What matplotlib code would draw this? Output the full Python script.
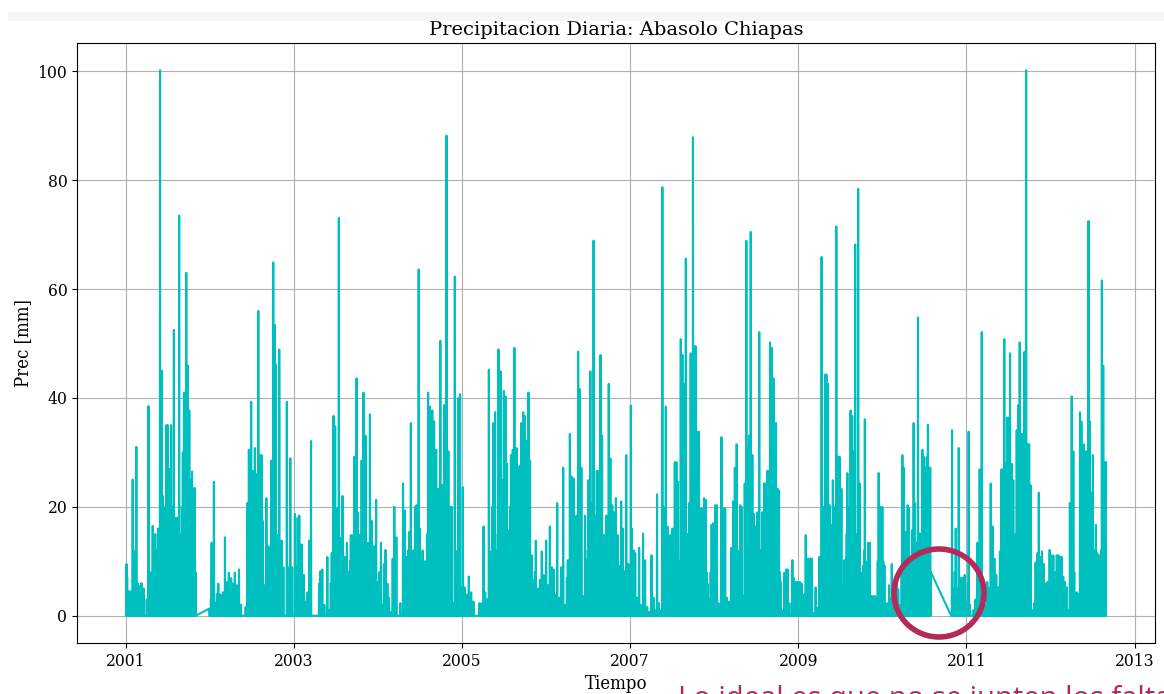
import numpy as np
import pandas as pd
import matplotlib
matplotlib.use("Agg")
import matplotlib.pyplot as plt
import matplotlib.dates as mdates
from matplotlib.patches import Ellipse, Rectangle

# precipitacion diaria: (dia del anio, mm)
lluvia_2001 = [(0, 8), (2, 9.5), (5, 7), (9, 4.5), (19, 4.5), (29, 25), (33, 12), (45, 31), (50, 6), (58, 5.5),
               (67, 6), (77, 5), (90, 3), (98, 38.5), (104, 5), (109, 8), (116, 16.5), (122, 9), (127, 15), (133, 12),
               (139, 16), (143, 10), (148, 100.2), (153, 14), (156, 45), (160, 22), (164, 20), (168, 12), (172, 10),
               (176, 35), (181, 35), (186, 20), (192, 27), (196, 35), (200, 12), (204, 20), (208, 52.5), (213, 14),
               (217, 18), (221, 18), (226, 11), (231, 73.5), (235, 15), (239, 11), (243, 20), (247, 30), (252, 41),
               (256, 25), (262, 63), (265, 20), (268, 46), (272, 30), (275, 37.7), (279, 25), (283, 20), (287, 26.5),
               (291, 15), (295, 12), (298, 23.5), (302, 8), (361, 1.3)]
lluvia_2002 = [(4, 3), (7, 13.4), (12, 2), (17, 24.6), (24, 2.3), (30, 4), (36, 5.9), (45, 3.9), (56, 4.3), (65, 14.4),
               (72, 6.2), (82, 7.9), (92, 6.9), (100, 5.9), (108, 7.9), (117, 5.6), (126, 8.5), (135, 2), (155, 1.6),
               (162, 20.7), (166, 8), (169, 30.5), (174, 12), (179, 39.3), (184, 15), (187, 26.6), (191, 10), (195, 30.8),
               (199, 14), (203, 26), (207, 12), (210, 56), (214, 15), (217, 29.5), (221, 10), (224, 29.5), (230, 17.4),
               (237, 5.6), (245, 21.6), (249, 10), (253, 12.8), (260, 12.5), (267, 28.5), (271, 12), (275, 64.9),
               (278, 20), (282, 53.4), (286, 46.2), (289, 15), (294, 5.6), (301, 48.9), (305, 13.4), (311, 13.8),
               (319, 8.9), (334, 39.3), (341, 8.9), (349, 28.9), (357, 8.9)]
lluvia_2003 = [(4, 18.7), (11, 8.9), (16, 18), (23, 18.4), (33, 13.1), (43, 7.5), (51, 2.6), (59, 4.3), (67, 13.8),
               (74, 32.1), (109, 5.9), (115, 8.2), (123, 8.5), (132, 2), (145, 10.8), (154, 1), (160, 6), (164, 11.5),
               (168, 8), (172, 36.7), (176, 12), (179, 34.8), (183, 10), (188, 19.7), (192, 12), (195, 73.1),
               (199, 14.4), (203, 10), (207, 10), (211, 22), (216, 8), (220, 10.8), (225, 9), (230, 13.4), (235, 6),
               (240, 8.2), (244, 10), (247, 14.8), (251, 10), (255, 14.8), (259, 12), (263, 29.2), (267, 15),
               (272, 43.6), (276, 19), (280, 12), (284, 13.4), (288, 15), (294, 28.5), (298, 14), (302, 41), (306, 20),
               (311, 33.1), (316, 10), (322, 13.4), (326, 8), (330, 37), (334, 10), (338, 17.4), (343, 8), (349, 12.8),
               (353, 8), (357, 21.3), (362, 6.2)]
lluvia_2004 = [(2, 6.2), (6, 8), (13, 13.4), (20, 2), (26, 9.5), (33, 12.1), (41, 5.9), (48, 3.3), (56, 0.7), (64, 10.5),
               (71, 20), (80, 14.4), (97, 2.3), (109, 24.3), (114, 10), (117, 19.3), (122, 8), (126, 10.8), (131, 12),
               (136, 15.4), (143, 35.4), (148, 6.2), (153, 12), (158, 10), (161, 20), (165, 12), (168, 20.3), (172, 12),
               (177, 63.6), (181, 16), (185, 10), (190, 9.2), (194, 12), (199, 7.2), (204, 10), (208, 7.2), (213, 15),
               (218, 41), (222, 20), (226, 38.4), (230, 25), (236, 37.7), (240, 22), (244, 35.7), (248, 20),
               (253, 30.5), (257, 15), (262, 23.3), (266, 20), (271, 50.5), (275, 20), (279, 24), (283, 15),
               (288, 38.7), (292, 20), (298, 88.2), (302, 20), (306, 30.2), (310, 15), (313, 20), (316, 12), (320, 20),
               (327, 2.3), (334, 62.3), (338, 10), (342, 6.9), (346, 12), (350, 40), (354, 15), (357, 40.7), (361, 5.2)]
lluvia_2005 = [(3, 23.6), (10, 5.2), (20, 3.9), (29, 7.2), (39, 4.3), (49, 2.6), (75, 2.3), (85, 2.3), (93, 16.4),
               (100, 4.3), (108, 3), (116, 45.2), (120, 8), (126, 11.8), (130, 20), (135, 35.4), (139, 20), (143, 37.4),
               (147, 12), (152, 6.2), (155, 15), (158, 48.9), (162, 20), (167, 44.9), (171, 25), (174, 10.5), (178, 20),
               (181, 41.3), (185, 25), (188, 40.3), (192, 20), (195, 27.9), (199, 12), (204, 15.7), (208, 20),
               (212, 29.5), (216, 15), (220, 30.5), (224, 20), (227, 49.2), (231, 20), (236, 30.8), (240, 15), (242, 21),
               (246, 15), (249, 27.5), (253, 15), (256, 35.4), (260, 20), (265, 37.4), (268, 20), (272, 36.7), (276, 20),
               (279, 32.1), (283, 15), (288, 41), (292, 15), (295, 28.5), (299, 10), (302, 11.1), (307, 5), (312, 6.6),
               (316, 8), (320, 13.8), (325, 5), (329, 3.3), (333, 5), (338, 6.6), (342, 4), (346, 11.8), (350, 5),
               (354, 7.5), (358, 4)]
lluvia_2006 = [(0, 13.8), (7, 5.6), (16, 16.4), (25, 8.9), (33, 8.5), (39, 3.9), (48, 20.7), (56, 3.3), (65, 8.9),
               (74, 27.2), (82, 2), (90, 6.9), (94, 10.2), (103, 33.4), (107, 10), (110, 25.6), (114, 8), (119, 25.2),
               (125, 9.5), (132, 18.4), (136, 10), (139, 48.5), (143, 15), (146, 41.6), (150, 15), (153, 27.2),
               (161, 3.6), (169, 18.4), (174, 8), (178, 10.2), (181, 12), (184, 24.9), (188, 12), (192, 44.9), (196, 15),
               (199, 20.7), (203, 12), (206, 68.9), (210, 15), (213, 18.4), (216, 12), (220, 26.6), (224, 15),
               (227, 26.6), (231, 15), (236, 47.9), (240, 15), (243, 33.1), (247, 12), (250, 14.8), (254, 12),
               (257, 14.8), (262, 18.4), (265, 12), (268, 15), (272, 42.6), (276, 15), (279, 28.9), (283, 12),
               (287, 20.3), (290, 10), (293, 19), (298, 10), (303, 21.6), (307, 10), (311, 14.8), (315, 8), (318, 9.2),
               (322, 6), (326, 21), (330, 8), (333, 16), (337, 5), (340, 8.2), (344, 5), (348, 29.5), (352, 8),
               (357, 9.5), (361, 6)]
lluvia_2007 = [(3, 38.6), (7, 16), (11, 8), (16, 12), (22, 11.5), (31, 3.3), (39, 12.5), (45, 2), (56, 15.1), (65, 10.2),
               (74, 1.6), (83, 0.7), (93, 11.1), (102, 3.3), (110, 1), (117, 22.3), (125, 2.3), (133, 1), (140, 78.7),
               (144, 20), (149, 16.7), (155, 38.4), (159, 12), (162, 16.4), (166, 10), (169, 14.8), (173, 10),
               (177, 14.8), (181, 10), (184, 16), (189, 12), (194, 28.2), (198, 15), (201, 28.2), (205, 15), (208, 24.6),
               (212, 10), (216, 2), (220, 50.8), (223, 20), (227, 47.9), (231, 20), (235, 42.6), (238, 20), (242, 65.6),
               (246, 15), (249, 7.2), (253, 15), (256, 20.7), (260, 15), (263, 48.2), (267, 20), (269, 47.9),
               (273, 87.9), (276, 20), (279, 49.5), (282, 20), (285, 49.5), (289, 15), (292, 33.8), (296, 15),
               (299, 33.8), (303, 12), (306, 19.7), (310, 10), (314, 19.7), (318, 12), (321, 21.6), (325, 10),
               (328, 21.3), (332, 8), (336, 5.9), (342, 3), (346, 2.3), (350, 8), (354, 16.7), (358, 10), (361, 17)]
lluvia_2008 = [(4, 20.3), (8, 10), (12, 20.3), (19, 2.3), (25, 1), (32, 32.8), (36, 10), (39, 19.7), (43, 8), (48, 19.7),
               (55, 3.3), (65, 2.6), (75, 12.5), (79, 8), (83, 21), (87, 10), (90, 27.2), (94, 12), (98, 31.5), (102, 8),
               (106, 9.8), (110, 12), (113, 20.3), (116, 10), (119, 20), (126, 3.6), (133, 24.3), (137, 12), (140, 68.9),
               (143, 15), (146, 30.8), (150, 12), (153, 33.1), (156, 15), (159, 70.5), (162, 15), (166, 29.5),
               (170, 12), (173, 18.7), (177, 10), (181, 16.4), (184, 10), (188, 19), (192, 12), (196, 52.1), (200, 10),
               (203, 12.1), (206, 10), (210, 19), (213, 12), (217, 24.3), (220, 15), (224, 24.3), (228, 15),
               (231, 26.6), (235, 15), (238, 26.6), (243, 50.2), (246, 20), (250, 49.2), (253, 20), (258, 43.6),
               (261, 15), (265, 11.8), (269, 35.4), (273, 15), (276, 23.3), (279, 10), (282, 23), (286, 8), (289, 6.2),
               (295, 1), (305, 7.9), (309, 5), (313, 8.5), (317, 4), (320, 8.5), (327, 2.3), (340, 10.2), (344, 5),
               (347, 6.9), (351, 4), (355, 6.2), (358, 4), (362, 6.2)]
lluvia_2009 = [(6, 6.2), (10, 3), (14, 5.9), (23, 3.9), (32, 14.8), (36, 6), (38, 10.5), (42, 5), (45, 10.5), (49, 6),
               (52, 10.5), (55, 5), (59, 10.5), (68, 0.5), (75, 5.2), (84, 1.5), (91, 10.8), (97, 10.8), (101, 65.9),
               (104, 10), (108, 7.2), (112, 20), (116, 44.3), (119, 20), (122, 44.3), (126, 20), (129, 42.6), (133, 15),
               (136, 20.3), (140, 12), (143, 16.7), (147, 12), (150, 24.9), (154, 12), (158, 20), (161, 12), (165, 71.5),
               (168, 20), (172, 29.2), (176, 15), (179, 29.2), (183, 15), (187, 23.3), (192, 5.6), (200, 10.2),
               (207, 10.5), (210, 15), (213, 26.2), (217, 12), (220, 20), (224, 15), (227, 37.7), (231, 20), (234, 36.7),
               (238, 20), (243, 30.2), (247, 68.2), (250, 15), (254, 7.9), (257, 15), (260, 78.4), (264, 15),
               (267, 24.3), (271, 8), (275, 5.6), (282, 9.2), (286, 12), (289, 36.1), (293, 10), (296, 8.9), (300, 6),
               (304, 13.4), (308, 8), (311, 13.4), (318, 3.6), (326, 3.6), (333, 3.6), (340, 3.3), (345, 10),
               (349, 26.2), (353, 12), (356, 20), (361, 10)]
lluvia_2010 = [(0, 20), (4, 10), (9, 9.2), (19, 2.3), (29, 5.6), (35, 3), (41, 9.5), (49, 2), (62, 6.2), (69, 4.9),
               (78, 2), (84, 8), (87, 29.5), (90, 12), (93, 27.2), (97, 10), (101, 15.4), (106, 8), (110, 20.3),
               (113, 10), (116, 19.7), (120, 8), (123, 10.2), (127, 8), (130, 15.7), (133, 10), (136, 35.4), (139, 12),
               (142, 20.7), (146, 10), (149, 13.4), (152, 10), (155, 54.8), (158, 12), (161, 15.1), (164, 10),
               (168, 15.1), (171, 12), (174, 30.5), (177, 15), (180, 29.2), (183, 12), (186, 27.2), (189, 12),
               (193, 29.2), (196, 12), (198, 35.1), (201, 12), (204, 27.2), (208, 27.2), (211, 8), (303, 34.1),
               (307, 5), (311, 4.3), (315, 8), (319, 16), (323, 5), (327, 4), (332, 30.8), (336, 6), (340, 5), (344, 7),
               (349, 6.9), (354, 2), (358, 7.5), (362, 2.6)]
lluvia_2011 = [(7, 6), (10, 33.8), (16, 2), (30, 1), (40, 3), (48, 13.4), (52, 5), (58, 26.9), (62, 8), (67, 52.1),
               (72, 6.2), (81, 2), (91, 6.2), (98, 5), (106, 24.3), (110, 8), (114, 16.4), (118, 6), (122, 10.5), (126, 5),
               (130, 7.5), (134, 4), (139, 5.2), (146, 11.8), (150, 8), (153, 26.9), (157, 15), (160, 26.9), (165, 50.8),
               (168, 20), (172, 27.9), (175, 15), (178, 36.4), (182, 15), (185, 36.4), (190, 48.2), (193, 20),
               (197, 27.9), (201, 15), (204, 24.9), (208, 12), (211, 14.4), (215, 15), (219, 34.1), (222, 20),
               (226, 38.7), (232, 50.2), (235, 20), (239, 33.4), (242, 15), (247, 33.4), (250, 20), (253, 48.5),
               (256, 20), (260, 100.2), (263, 20), (266, 31.5), (269, 15), (273, 31.5), (276, 12), (279, 24), (286, 1),
               (294, 2.3), (301, 9.8), (305, 5), (309, 11.5), (315, 22.6), (318, 8), (322, 10.8), (326, 6), (329, 11.8),
               (333, 6), (337, 9.5), (344, 5.9), (351, 6.2), (356, 5), (362, 12.1)]
lluvia_2012 = [(4, 11.1), (8, 6), (13, 11.1), (17, 5), (20, 5.9), (24, 8), (28, 11.1), (32, 6), (35, 11.1), (39, 6),
               (42, 10.8), (46, 6), (49, 10.8), (56, 7.2), (64, 6.2), (71, 5.2), (78, 1), (85, 20.7), (89, 10),
               (93, 40.3), (96, 15), (100, 30.2), (104, 8), (107, 1), (115, 4.3), (122, 4), (129, 37.4), (132, 15),
               (135, 35.7), (139, 15), (142, 29.2), (146, 31.5), (149, 12), (152, 11.1), (156, 30.2), (160, 17.4),
               (163, 12), (166, 72.5), (169, 15), (172, 35.7), (176, 12), (179, 22.6), (182, 10), (185, 29.5), (189, 10),
               (192, 7.5), (195, 12), (198, 16.7), (202, 8), (204, 11.5), (208, 8), (211, 11.1), (215, 8), (218, 9.5),
               (221, 12), (224, 61.6), (227, 15), (230, 45.9), (233, 15), (236, 28.2), (239, 15), (242, 28.2)]

anios = [2001, 2002, 2003, 2004, 2005, 2006, 2007, 2008, 2009, 2010, 2011, 2012]
lluvias = [lluvia_2001, lluvia_2002, lluvia_2003, lluvia_2004, lluvia_2005, lluvia_2006,
           lluvia_2007, lluvia_2008, lluvia_2009, lluvia_2010, lluvia_2011, lluvia_2012]

inicio, fin = "2001-01-01", "2012-08-30"
# periodos sin datos
faltantes = [("2001-11-01", "2001-12-27"), ("2010-08-01", "2010-10-26")]
anios_ticks = [2001, 2003, 2005, 2007, 2009, 2011, 2013]

# serie diaria
prec = pd.Series(0.0, index=pd.date_range(inicio, fin, freq="D"))
for anio, lista in zip(anios, lluvias):
    for dia, mm in lista:
        prec[pd.Timestamp(anio, 1, 1) + pd.Timedelta(days=dia)] = mm
for a, b in faltantes:
    prec = prec[(prec.index < a) | (prec.index > b)]

plt.rcParams["font.family"] = "DejaVu Serif"
plt.rcParams["font.stretch"] = "condensed"

fig = plt.figure(figsize=(11.64, 6.94), dpi=100)
fig.patches.append(Rectangle((8 / 1164, 674 / 694), 1, 8 / 694, transform=fig.transFigure,
                             color="#f6f6f6", zorder=0))
ax = fig.add_axes([77 / 1164, 51 / 694, 1078 / 1164, 600 / 694])
ax.plot(prec.index, prec.values, color="c", linewidth=1.5)
ax.grid(True)
ax.set_xticks([pd.Timestamp(y, 1, 1) for y in anios_ticks])
ax.xaxis.set_major_formatter(mdates.DateFormatter("%Y"))
ax.tick_params(labelsize=12.5)
ax.set_title("Precipitacion Diaria: Abasolo Chiapas", fontsize=14, fontstretch="normal", pad=6)
ax.set_xlabel("Tiempo", fontsize=13.3)
ax.set_ylabel("Prec [mm]", fontsize=13.3)

# anotacion
fig.patches.append(Ellipse((939 / 1164, 1 - 593 / 694), 90 / 1164, 88 / 694, transform=fig.transFigure,
                           fill=False, edgecolor="#b52a5b", linewidth=4))
fig.text(678 / 1164, 1 - 707 / 694, "Lo ideal es que no se junten los faltantes", color="#b52a5b",
         fontsize=21, family="Open Sans", fontstretch="normal", va="baseline")

fig.savefig("out.png", dpi=100)
